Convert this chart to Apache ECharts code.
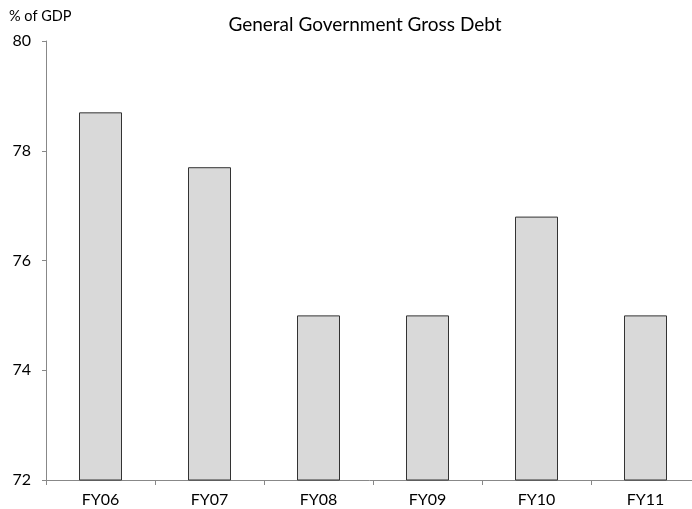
<!DOCTYPE html>
<html>
<head>
<meta charset="utf-8">
<script src="https://cdn.jsdelivr.net/npm/echarts@6/dist/echarts.min.js"></script>
<style>
  html, body { margin: 0; padding: 0; background: #fff; }
  #chart { width: 692px; height: 509px; }
</style>
</head>
<body>
<div id="chart"></div>
<script>
// General government gross debt, % of GDP, by fiscal year
const categories = ['FY06', 'FY07', 'FY08', 'FY09', 'FY10', 'FY11'];
const debtValues = [78.7, 77.7, 75.0, 75.0, 76.8, 75.0];
const yTicks = { min: 72, max: 80, interval: 2 };

const font = "Lato, 'Open Sans', sans-serif";
const chart = echarts.init(document.getElementById('chart'));

chart.setOption({
  animation: false,
  title: {
    text: 'General Government Gross Debt',
    left: 360,
    top: 10,
    textAlign: 'center',
    textStyle: { fontFamily: font, fontSize: 19, fontWeight: 'normal', color: '#000' }
  },
  graphic: [{
    type: 'text',
    left: 9,
    top: 9,
    style: { text: '% of GDP', font: "14.5px Lato, sans-serif", fill: '#000' }
  }],
  // plot runs past the right edge of the canvas, so the width is given directly
  grid: { left: 46, width: 654, top: 41, bottom: 29, outerBoundsMode: 'none' },
  xAxis: {
    type: 'category',
    data: categories,
    axisLine: { lineStyle: { color: '#888', width: 1 } },
    axisTick: { show: true, length: 5, lineStyle: { color: '#888' } },
    axisLabel: { color: '#000', fontFamily: font, fontSize: 16, margin: 12 }
  },
  yAxis: {
    type: 'value',
    min: yTicks.min,
    max: yTicks.max,
    interval: yTicks.interval,
    axisLine: { show: true, lineStyle: { color: '#888', width: 1 } },
    axisTick: { show: true, length: 4, lineStyle: { color: '#888' } },
    splitLine: { show: false },
    axisLabel: { color: '#000', fontFamily: font, fontSize: 16, margin: 15 }
  },
  series: [{
    type: 'bar',
    data: debtValues,
    barWidth: 43,
    itemStyle: { color: '#d9d9d9', borderColor: '#333', borderWidth: 1 }
  }]
});
</script>
</body>
</html>
